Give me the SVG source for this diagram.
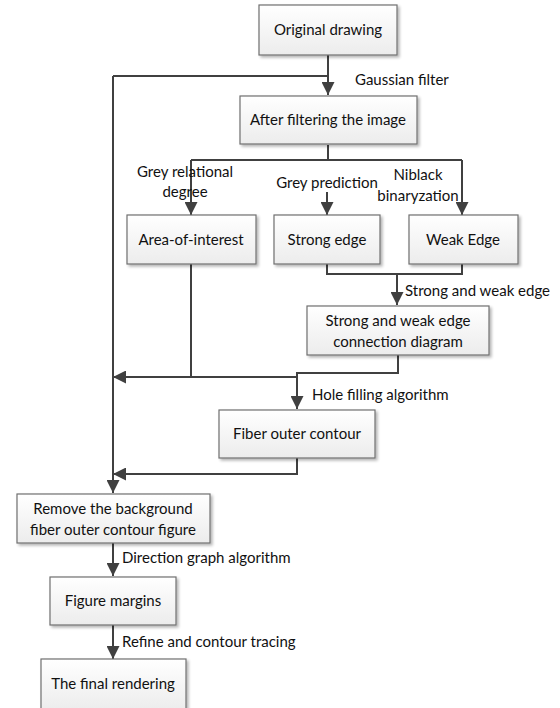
<svg xmlns="http://www.w3.org/2000/svg" width="560" height="708" viewBox="0 0 560 708">
<defs>
<linearGradient id="g" x1="0" y1="0" x2="0" y2="1">
<stop offset="0" stop-color="#ffffff"/>
<stop offset="1" stop-color="#ececec"/>
</linearGradient>
<filter id="sh" x="-10%" y="-10%" width="130%" height="140%">
<feGaussianBlur in="SourceAlpha" stdDeviation="1.5"/>
<feOffset dx="2" dy="2" result="b"/>
<feComponentTransfer><feFuncA type="linear" slope="0.3"/></feComponentTransfer>
<feMerge><feMergeNode/><feMergeNode in="SourceGraphic"/></feMerge>
</filter>
<marker id="ah" viewBox="0 0 12 12" refX="12" refY="6" markerWidth="13" markerHeight="13" markerUnits="userSpaceOnUse" orient="auto">
<path d="M0,0 L12,6 L0,12 Z" fill="#404040"/>
</marker>
</defs>
<style>
.box{fill:url(#g);stroke:#707070;stroke-width:1.2;filter:url(#sh)}
.t{font-family:Lato,"Liberation Sans",sans-serif;font-size:15px;fill:#111;text-anchor:middle}
.l{font-family:Lato,"Liberation Sans",sans-serif;font-size:15px;fill:#111}
.c{fill:none;stroke:#404040;stroke-width:2}
</style>
<rect width="560" height="708" fill="#ffffff"/>
<g id="connectors">
<path class="c" d="M328,55 V95" marker-end="url(#ah)"/>
<path class="c" d="M113,76 H328"/>
<path class="c" d="M113,76 V493" marker-end="url(#ah)"/>
<path class="c" d="M328,145 V160"/>
<path class="c" d="M191,160 H462"/>
<path class="c" d="M191,160 V215" marker-end="url(#ah)"/>
<path class="c" d="M462,160 V215" marker-end="url(#ah)"/>
<path class="c" d="M327,192 V215" marker-end="url(#ah)"/>
<path class="c" d="M327,264 V274 H462 V264"/>
<path class="c" d="M397,274 V305" marker-end="url(#ah)"/>
<path class="c" d="M191,264 V377"/>
<path class="c" d="M297,377 H113" marker-end="url(#ah)"/>
<path class="c" d="M398,355 V373 H297 V409" marker-end="url(#ah)"/>
<path class="c" d="M297,458 V474 H113" marker-end="url(#ah)"/>
<path class="c" d="M113,543 V576" marker-end="url(#ah)"/>
<path class="c" d="M113,625 V659" marker-end="url(#ah)"/>
</g>
<g id="n1"><rect class="box" x="259" y="5" width="138" height="50"/><text class="t" x="328" y="35">Original drawing</text></g>
<g id="n2"><rect class="box" x="240" y="96" width="177" height="48"/><text class="t" x="328" y="125">After filtering the image</text></g>
<g id="n3"><rect class="box" x="127" y="215" width="129" height="49"/><text class="t" x="191" y="245">Area-of-interest</text></g>
<g id="n4"><rect class="box" x="274" y="215" width="106" height="49"/><text class="t" x="327" y="245">Strong edge</text></g>
<g id="n5"><rect class="box" x="409" y="215" width="109" height="49"/><text class="t" x="463" y="245">Weak Edge</text></g>
<g id="n6"><rect class="box" x="307" y="306" width="182" height="49"/><text class="t" x="398" y="326">Strong and weak edge</text><text class="t" x="398" y="347">connection diagram</text></g>
<g id="n7"><rect class="box" x="219" y="410" width="156" height="48"/><text class="t" x="297" y="439">Fiber outer contour</text></g>
<g id="n8"><rect class="box" x="17" y="494" width="193" height="49"/><text class="t" x="113" y="514">Remove the background</text><text class="t" x="113" y="535">fiber outer contour figure</text></g>
<g id="n9"><rect class="box" x="50" y="577" width="126" height="48"/><text class="t" x="113" y="606">Figure margins</text></g>
<g id="n10"><rect class="box" x="41" y="659" width="145" height="52"/><text class="t" x="113" y="689">The final rendering</text></g>
<g id="labels">
<text class="l" x="355" y="85">Gaussian filter</text>
<text class="t" x="185" y="177">Grey relational</text>
<text class="t" x="185" y="197">degree</text>
<text class="t" x="327" y="188">Grey prediction</text>
<text class="t" x="418" y="180">Niblack</text>
<text class="t" x="418" y="201">binaryzation</text>
<text class="l" x="405" y="296">Strong and weak edge</text>
<text class="l" x="312" y="400">Hole filling algorithm</text>
<text class="l" x="122" y="563">Direction graph algorithm</text>
<text class="l" x="122" y="647">Refine and contour tracing</text>
</g>
</svg>
